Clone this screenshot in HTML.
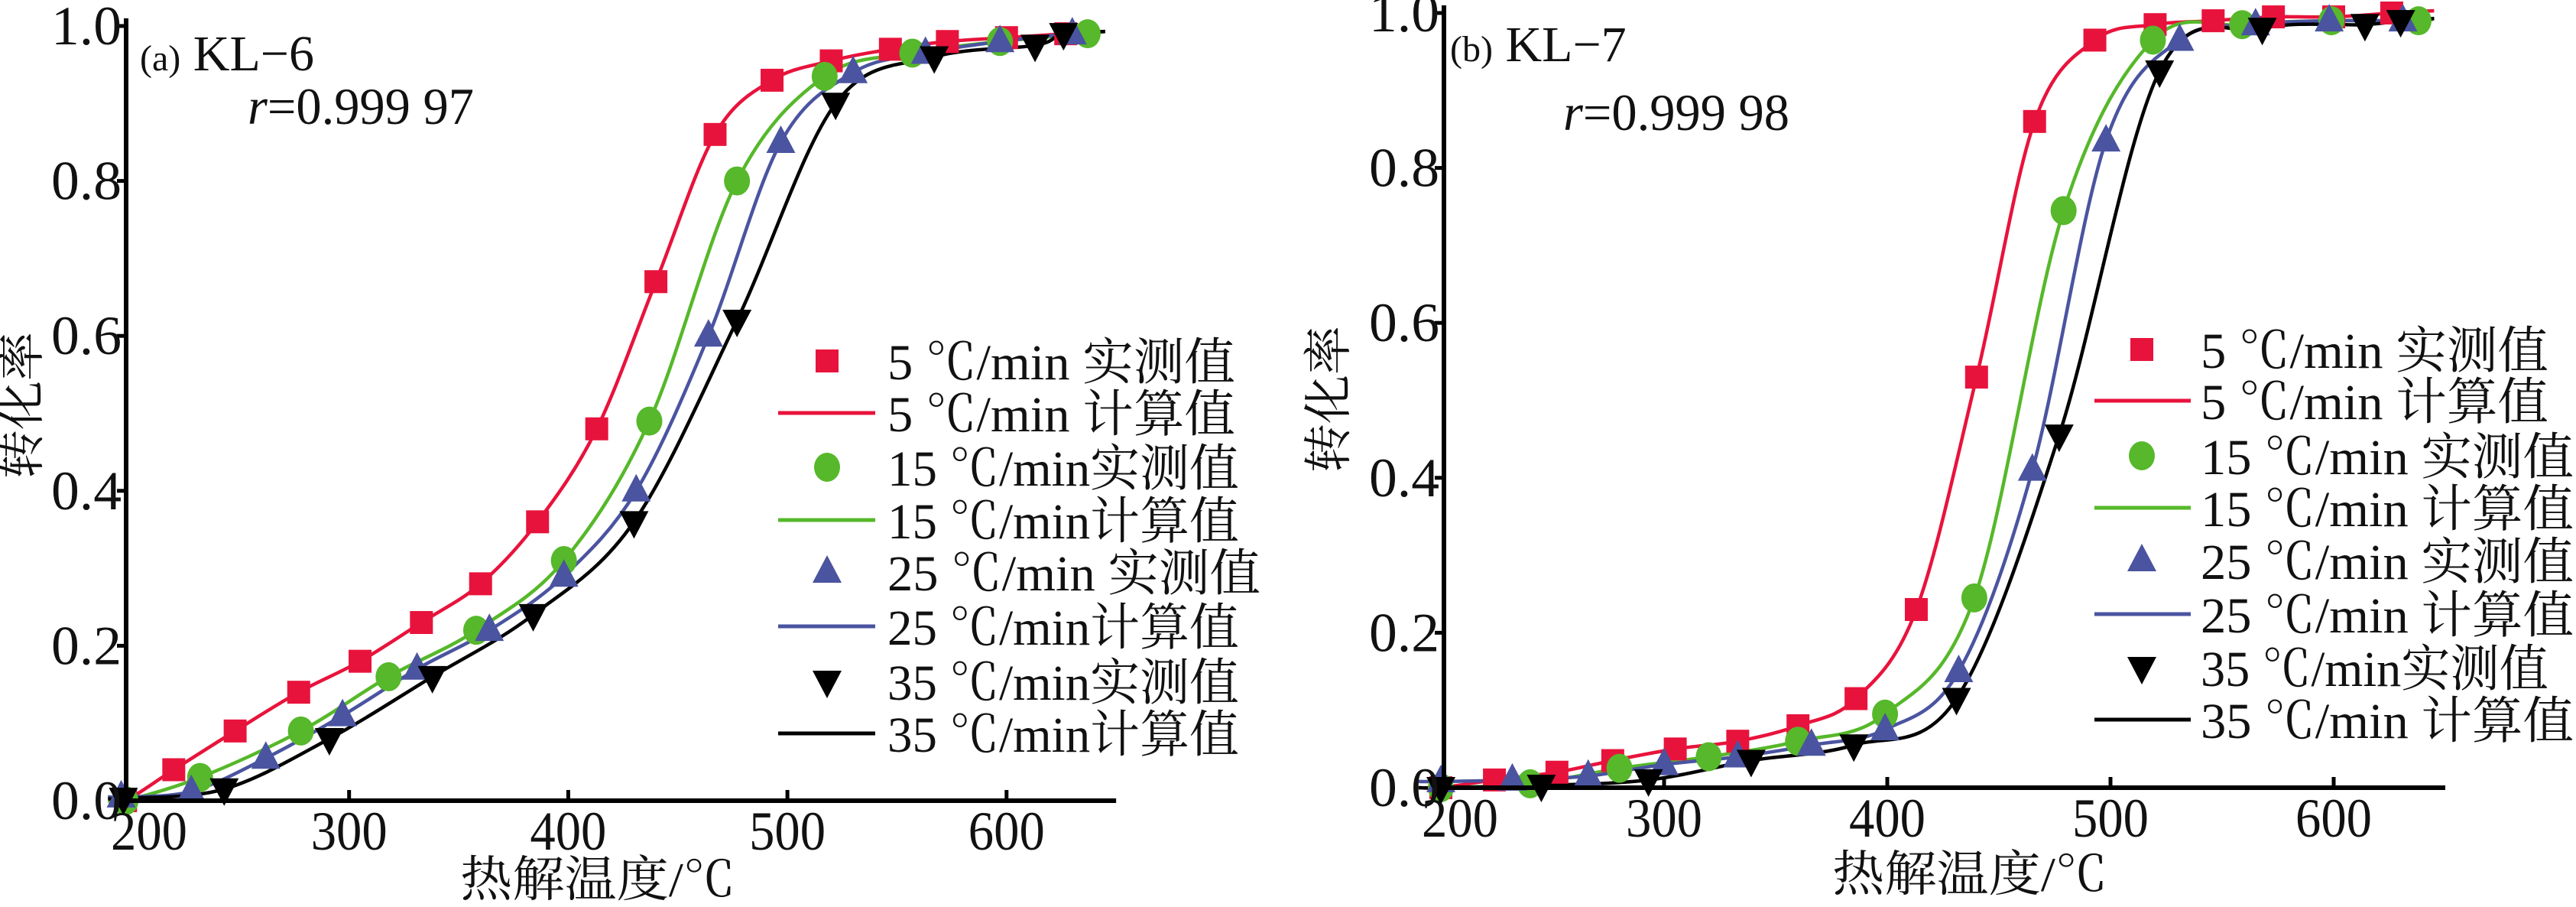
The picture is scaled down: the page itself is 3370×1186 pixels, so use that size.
<!DOCTYPE html>
<html><head><meta charset="utf-8"><style>
html,body{margin:0;padding:0;background:#fff;}
svg{display:block;}
text{font-family:"Liberation Serif","Noto Serif CJK SC",serif;fill:#111;}
</style></head><body>
<svg id="s" width="3370" height="1186" viewBox="0 0 3370 1186" xmlns="http://www.w3.org/2000/svg"></svg>
<script>
const S=document.getElementById('s');let h='';
const C={r:'#e8133c',g:'#56b82a',b:'#4a54a0',k:'#000'};
function cr(pts){let d='M'+pts[0][0].toFixed(1)+','+pts[0][1].toFixed(1);
for(let i=0;i<pts.length-1;i++){const p0=pts[Math.max(0,i-1)],p1=pts[i],p2=pts[i+1],p3=pts[Math.min(pts.length-1,i+2)];
const c1=[p1[0]+(p2[0]-p0[0])/6,p1[1]+(p2[1]-p0[1])/6],c2=[p2[0]-(p3[0]-p1[0])/6,p2[1]-(p3[1]-p1[1])/6];
d+=`C${c1[0].toFixed(1)},${c1[1].toFixed(1)} ${c2[0].toFixed(1)},${c2[1].toFixed(1)} ${p2[0].toFixed(1)},${p2[1].toFixed(1)}`;}return d;}
function mk(t,x,y,c){if(t=='s')return `<rect x="${x-15}" y="${y-15}" width="30" height="30" fill="${c}"/>`;
if(t=='c')return `<ellipse cx="${x}" cy="${y}" rx="17" ry="19" fill="${c}"/>`;
if(t=='u')return `<polygon points="${x},${y-22} ${x+19},${y+14} ${x-19},${y+14}" fill="${c}"/>`;
return `<polygon points="${x},${y+22} ${x+19},${y-14} ${x-19},${y-14}" fill="${c}"/>`;}
function panel(P){
const X=T=>P.x0+(T-200)*P.sx, Y=v=>P.y0-1013*v;
P.ser.forEach(s=>{const pts=[[190,s.p[0][1]]].concat(s.p,[[645,s.p[s.p.length-1][1]+0.003]]).map(q=>[X(q[0]),Y(q[1])]);
h+=`<path d="${cr(pts)}" fill="none" stroke="${s.c}" stroke-width="4.5"/>`;});
P.ser.forEach(s=>{s.p.forEach(q=>{h+=mk(s.m,X(q[0]),Y(q[1]),s.c);});});
h+=`<line x1="${P.ax}" y1="${Y(1)-10}" x2="${P.ax}" y2="${P.y0+3}" stroke="#000" stroke-width="6"/>`;
h+=`<line x1="${P.ax-3}" y1="${P.y0}" x2="${X(650)}" y2="${P.y0}" stroke="#000" stroke-width="6"/>`;
for(let i=0;i<=5;i++){const v=i/5,y=Y(v);h+=`<line x1="${P.ax-12}" y1="${y}" x2="${P.ax}" y2="${y}" stroke="#000" stroke-width="5"/>`;
h+=`<text x="${P.ax-6}" y="${y+24}" font-size="72" text-anchor="end" textLength="92" lengthAdjust="spacingAndGlyphs">${v.toFixed(1)}</text>`;}
[200,300,400,500,600].forEach(T=>{const x=X(T);if(T>200)h+=`<line x1="${x}" y1="${P.y0-14}" x2="${x}" y2="${P.y0}" stroke="#000" stroke-width="5"/>`;
h+=`<text x="${x+(T==200?25:0)}" y="${P.y0+64}" font-size="72" text-anchor="middle" textLength="100" lengthAdjust="spacingAndGlyphs">${T}</text>`;});
h+=`<text transform="translate(${P.ylx},${P.yly}) rotate(-90)" font-size="64" text-anchor="middle">转化率</text>`;
h+=`<text x="${P.xlx}" y="${P.xly}" font-size="64" text-anchor="middle" textLength="360" lengthAdjust="spacingAndGlyphs">热解温度/℃</text>`;
h+=`<text x="${P.tx}" y="${P.ty}" font-size="66"><tspan font-size="48">(${P.lab})</tspan> KL−${P.n}</text>`;
h+=`<text x="${P.rx}" y="${P.ry}" font-size="68" textLength="296" lengthAdjust="spacingAndGlyphs"><tspan font-style="italic">r</tspan>=0.999 ${P.rv}</text>`;
P.ser.forEach((s,i)=>{const y1=P.ly[2*i],y2=P.ly[2*i+1];h+=mk(s.m,P.lm,y1,s.c);
h+=`<line x1="${P.l1}" y1="${y2}" x2="${P.l2}" y2="${y2}" stroke="${s.c}" stroke-width="5"/>`;
h+=`<text x="${P.lt}" y="${y1+24}" font-size="66" textLength="${P.lw[2*i]}" lengthAdjust="spacingAndGlyphs">${P.labs[2*i]}</text>`;
h+=`<text x="${P.lt}" y="${y2+24}" font-size="66" textLength="${P.lw[2*i+1]}" lengthAdjust="spacingAndGlyphs">${P.labs[2*i+1]}</text>`;});
}
panel({x0:170,sx:2.867,y0:1047,ax:165,ylx:50,yly:530,xlx:782,xly:1172,tx:183,ty:92,lab:'a',n:6,rx:324,ry:162,rv:'97',
lm:1082,l1:1018,l2:1145,lt:1161,ly:[472,540,611,680,748,819,891,959],
labs:['5 ℃/min 实测值','5 ℃/min 计算值','15 ℃/min实测值','15 ℃/min计算值','25 ℃/min  实测值','25 ℃/min计算值','35 ℃/min实测值','35 ℃/min计算值'],
lw:[455,455,460,460,488,460,460,460],
ser:[
{c:C.r,m:'s',p:[[198,0.0],[220,0.04],[248,0.09],[277,0.14],[305,0.18],[333,0.23],[360,0.28],[386,0.36],[413,0.48],[440,0.67],[467,0.86],[493,0.93],[520,0.955],[547,0.97],[573,0.98],[600,0.985],[627,0.99]]},
{c:C.g,m:'c',p:[[198,0.0],[232,0.03],[278,0.09],[318,0.16],[358,0.22],[398,0.31],[437,0.49],[477,0.80],[517,0.935],[557,0.965],[597,0.98],[637,0.99]]},
{c:C.b,m:'u',p:[[196,0.005],[228,0.012],[262,0.055],[297,0.11],[331,0.17],[364,0.22],[398,0.29],[431,0.40],[464,0.60],[497,0.85],[530,0.94],[563,0.965],[597,0.98],[630,0.99]]},
{c:C.k,m:'d',p:[[197,0.003],[243,0.015],[291,0.08],[338,0.16],[384,0.24],[430,0.36],[477,0.62],[522,0.90],[567,0.96],[613,0.975],[626,0.99]]}]});
panel({x0:1885,sx:2.92,y0:1030,ax:1889,ylx:1760,yly:522,xlx:2577,xly:1165,tx:1897,ty:80,lab:'b',n:7,rx:2045,ry:170,rv:'98',
lm:2802,l1:2740,l2:2866,lt:2879,ly:[457,524,596,664,733,803,873,941],
labs:['5 ℃/min 实测值','5 ℃/min 计算值','15 ℃/min 实测值','15 ℃/min 计算值','25 ℃/min 实测值','25 ℃/min 计算值','35 ℃/min实测值','35 ℃/min 计算值'],
lw:[455,455,488,488,488,488,455,488],
ser:[
{c:C.r,m:'s',p:[[200,0],[224,0.01],[252,0.02],[277,0.035],[305,0.05],[333,0.06],[360,0.08],[386,0.115],[413,0.23],[440,0.53],[466,0.86],[493,0.965],[520,0.985],[546,0.99],[573,0.995],[600,0.995],[626,1.0]]},
{c:C.g,m:'c',p:[[200,0],[240,0.005],[280,0.025],[320,0.04],[360,0.06],[399,0.095],[439,0.245],[479,0.745],[519,0.965],[559,0.985],[599,0.99],[638,0.99]]},
{c:C.b,m:'u',p:[[200,0.008],[232,0.01],[266,0.015],[300,0.03],[333,0.04],[366,0.055],[399,0.075],[432,0.15],[465,0.41],[498,0.835],[531,0.965],[565,0.985],[598,0.99],[631,0.99]]},
{c:C.k,m:'d',p:[[200,0],[245,0.003],[293,0.01],[339,0.035],[385,0.055],[431,0.115],[477,0.455],[522,0.925],[568,0.98],[614,0.985],[630,0.99]]}]});
S.innerHTML=h;
</script>
</body></html>
